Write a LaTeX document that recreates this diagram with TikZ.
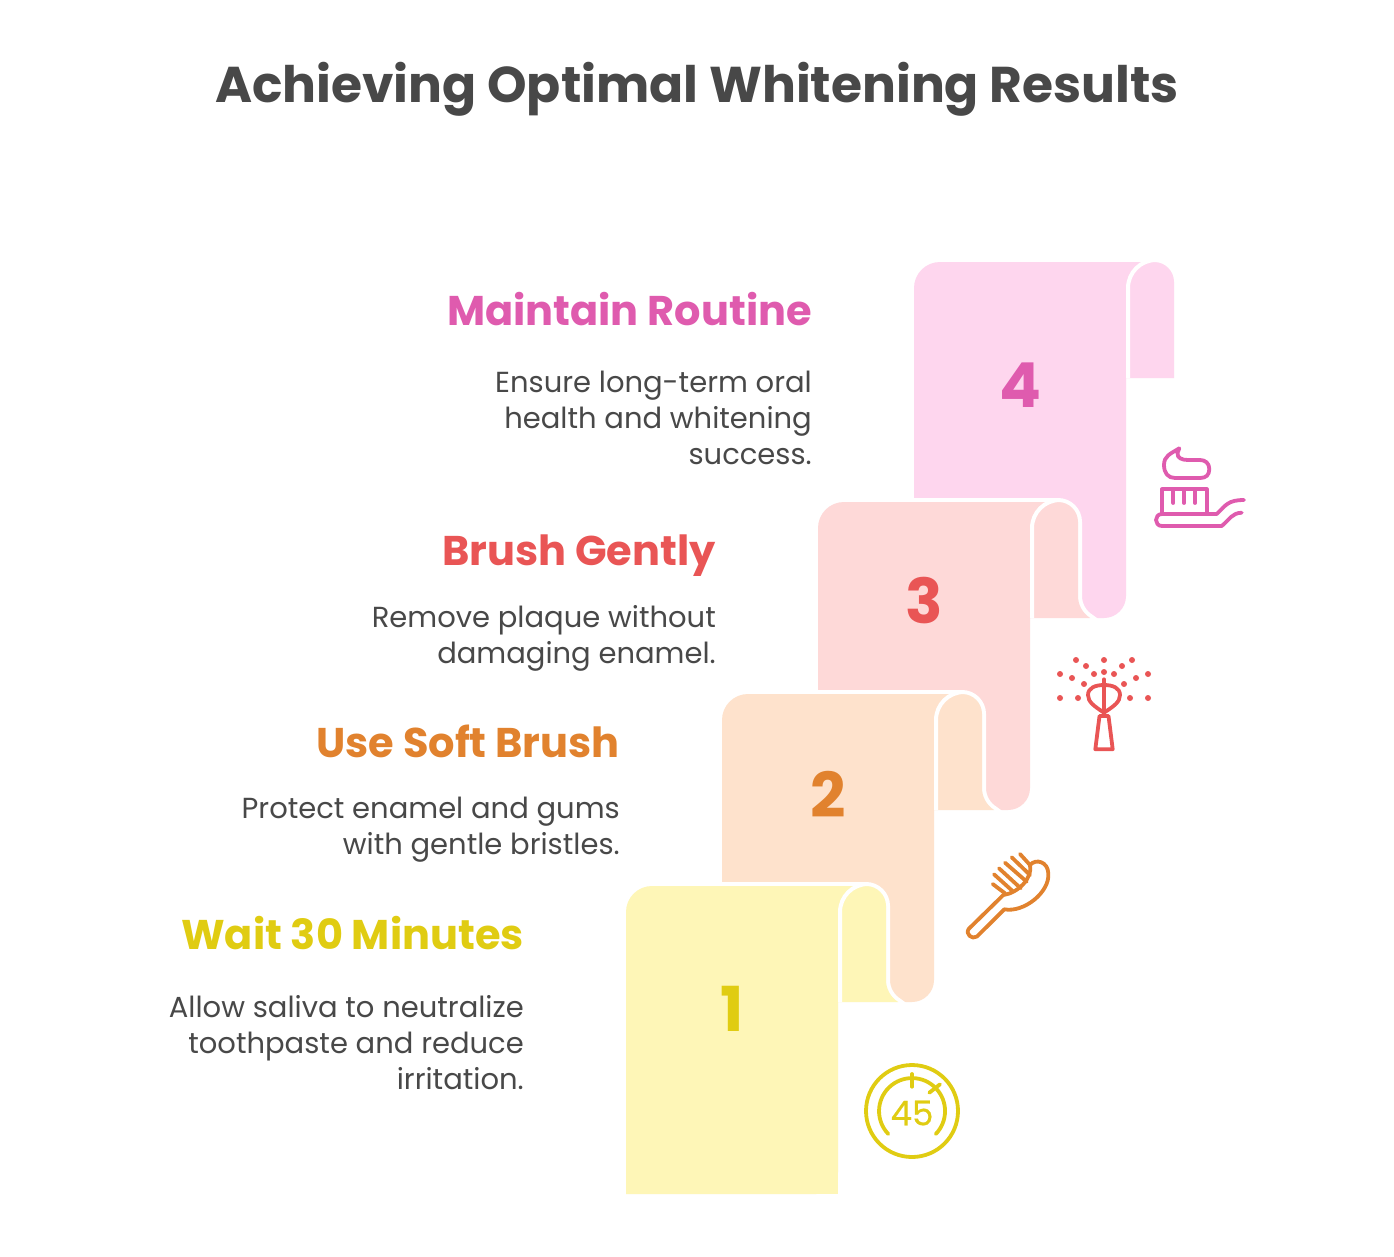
\documentclass[tikz,border=0pt]{standalone}
\usepackage{fontspec}
\setmainfont{Poppins}
\newfontfamily\iconfont[FakeBold=0.6]{Poppins}

\definecolor{inktext}{HTML}{484848}
\definecolor{yellowfill}{HTML}{FEF6B7}
\definecolor{yellowink}{HTML}{E0CC12}
\definecolor{peachfill}{HTML}{FEE2CC}
\definecolor{peachink}{HTML}{E1822E}
\definecolor{redfill}{HTML}{FED9D8}
\definecolor{redink}{HTML}{E95555}
\definecolor{pinkfill}{HTML}{FED6EE}
\definecolor{pinkink}{HTML}{DF5BAE}

\tikzset{
    titlelabel/.style={text=inktext,font=\fontsize{50.3}{56}\selectfont\bfseries,inner sep=0pt,anchor=base},
    headlabel/.style={font=\fontsize{41.5}{46}\selectfont\bfseries,inner sep=0pt,anchor=base east},
    bodylabel/.style={text=inktext,font=\fontsize{29}{36}\selectfont,align=right,inner sep=0pt,anchor=north east},
    steplabel/.style={font=\fontsize{62}{64}\selectfont\bfseries,inner sep=0pt},
    iconline/.style={line width=3.8pt,line cap=round,line join=round},
}

% one scroll: left edge, top edge, height, fill colour, end of the flap
\newcommand{\scrollshape}[5]{
    \begin{scope}[shift={(#1,#2)}]
        \draw[white,line width=8pt](0,#3)--(0,26) arc[start angle=180,end angle=90,radius=26pt]
            --(240,0) arc[start angle=90,end angle=0,radius=20pt]
            --(260,94) #5
            --(212,116)--(212,#3-22) arc[start angle=0,end angle=-90,radius=22pt]
            --cycle;
        \fill[#4](0,#3)--(0,26) arc[start angle=180,end angle=90,radius=26pt]
            --(240,0) arc[start angle=90,end angle=0,radius=20pt]
            --(260,94) #5
            --(212,116)--(212,#3-22) arc[start angle=0,end angle=-90,radius=22pt]
            --cycle;
        \draw[white,line width=4pt](214,116)--(214,26) arc[start angle=180,end angle=90,radius=28pt];
    \end{scope}
}

\begin{document}
\begin{tikzpicture}[x=1pt,y=-1pt]
    \useasboundingbox(0,0) rectangle (1394,1256);

    \node[titlelabel](title)at(697,102){Achieving Optimal Whitening Results};

    % scrolls, back to front
    \scrollshape{914}{262}{356}{pinkfill}{--(260,116)}
    \scrollshape{818}{502}{308}{redfill}{arc[start angle=180,end angle=237.8,radius=26pt]}
    \scrollshape{722}{694}{308}{peachfill}{arc[start angle=180,end angle=237.8,radius=26pt]}
    \scrollshape{626}{886}{308}{yellowfill}{arc[start angle=180,end angle=237.8,radius=26pt]}
    \fill[yellowfill](816,1172) rectangle (838,1194);

    \node[steplabel,text=pinkink](num4)at(1020,385){4};
    \node[steplabel,text=redink](num3)at(924,601){3};
    \node[steplabel,text=peachink](num2)at(828,794){2};
    \node[steplabel,text=yellowink](num1)at(732,1009){1};

    \node[headlabel,text=pinkink](head4)at(812,325){Maintain Routine};
    \node[bodylabel](body4)at(812,371){Ensure long-term oral\\health and whitening\\success.};
    \node[headlabel,text=redink](head3)at(716,565){Brush Gently};
    \node[bodylabel](body3)at(716,605){Remove plaque without\\damaging enamel.};
    \node[headlabel,text=peachink](head2)at(620,757){Use Soft Brush};
    \node[bodylabel](body2)at(620,797){Protect enamel and gums\\with gentle bristles.};
    \node[headlabel,text=yellowink](head1)at(524,949){Wait 30 Minutes};
    \node[bodylabel](body1)at(524,995){Allow saliva to neutralize\\toothpaste and reduce\\irritation.};

    % toothbrush
    \draw[iconline,pinkink](1179.3,448.3).. controls (1170,454) and (1164,456) .. (1164,465)
        .. controls (1164,473) and (1168,478) .. (1175,478)--(1200,478)
        .. controls (1206,478) and (1209.3,475) .. (1209.3,469)
        .. controls (1209.3,463) and (1205,460) .. (1200,460)--(1188,460)
        .. controls (1182,460) and (1177,458) .. (1177.5,453)--cycle;
    \draw[iconline,pinkink](1162,514)--(1162,489.3)--(1206.7,489.3)--(1206.7,514);
    \foreach \bx in {1173.3,1184,1195}{
        \draw[iconline,pinkink](\bx,489.3)--(\bx,503);
    }
    \draw[iconline,pinkink](1244,500).. controls (1228,500) and (1226,505) .. (1216.7,514)
        --(1162,514).. controls (1154,514) and (1154,526) .. (1162,526)--(1221.7,526)
        .. controls (1230,519) and (1232,513) .. (1241.7,512.7);

    % sprayer
    \foreach \dx/\dy in {1076/660,1104/660,1132/660,1086/666,1122/666,1060/674,1072/678,1094/674,1104/672,1114/674,1136/678,1148/674,1084/684,1124/684,1060/698,1078/698,1130/698,1148/698}{
        \fill[redink](\dx,\dy) circle (3pt);
    }
    \draw[iconline,redink](1104,679.3)--(1104,712.7);
    \draw[iconline,redink](1104,712.7).. controls (1094,706) and (1088,702) .. (1088,695)
        .. controls (1088,688) and (1095,685) .. (1104,685)
        .. controls (1113,685) and (1120,688) .. (1120,695)
        .. controls (1120,702) and (1114,706) .. (1104,712.7)--cycle;
    \draw[iconline,redink](1099.5,716)--(1108.5,716)--(1112.7,749.3)--(1095.3,749.3)--cycle;

    % hair brush
    \draw[iconline,peachink](1003.3,895)--(968.8,928.8).. controls (965,934) and (972,940) .. (977,936.5)
        --(1004.3,909.3).. controls (1024,913) and (1050,892) .. (1048.3,873.3)
        .. controls (1048,862) and (1036,858) .. (1030,865)
        .. controls (1033,878) and (1018,893) .. (1003.3,895);
    \foreach \ax/\ay/\bx/\by in {992.7/884/1005/893.3,994/874.3/1013.3/891.7,999/868.3/1020.7/888.3,1005/862.7/1026.7/881.7,1011.7/857.3/1030/875,1020/854/1030/865}{
        \draw[iconline,peachink](\ax,\ay)--(\bx,\by);
    }

    % timer
    \draw[iconline,yellowink](912,1111) circle (46pt);
    \draw[iconline,yellowink](888.3,1134) arc[start angle=224,end angle=-44,radius=33pt];
    \draw[iconline,yellowink](912,1074)--(912,1086.7);
    \draw[iconline,yellowink](929.3,1092.7)--(940,1084.3);
    \node[text=yellowink,font=\iconfont\fontsize{34}{36}\selectfont,inner sep=0pt](timer)at(912,1113){45};
\end{tikzpicture}
\end{document}
